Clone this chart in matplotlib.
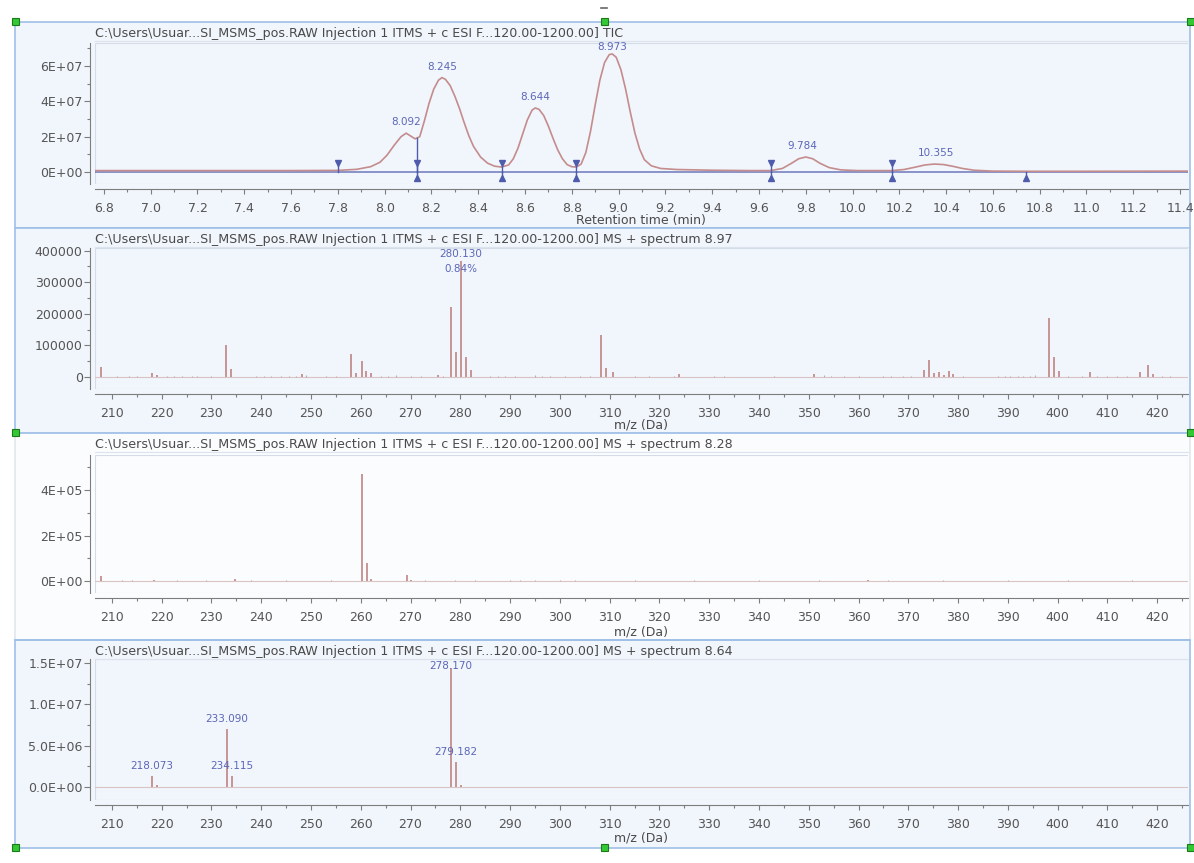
import matplotlib.pyplot as plt
from matplotlib.patches import Rectangle
from matplotlib.lines import Line2D
from matplotlib.ticker import MultipleLocator

plt.rcParams['font.family'] = ['DejaVu Sans']

# ---- TIC trace (retention time in min, intensity in counts) ----
tic_time = [6.76, 7.0, 7.3, 7.6, 7.8, 7.88, 7.94, 7.98, 8.01, 8.04, 8.07, 8.092,
            8.11, 8.13, 8.15, 8.17, 8.19, 8.21, 8.23, 8.245, 8.26, 8.28, 8.30,
            8.32, 8.34, 8.36, 8.38, 8.41, 8.44, 8.47, 8.50, 8.53, 8.55, 8.57,
            8.59, 8.61, 8.63, 8.644, 8.66, 8.68, 8.70, 8.72, 8.74, 8.76, 8.78,
            8.80, 8.82, 8.84, 8.86, 8.88, 8.90, 8.92, 8.94, 8.96, 8.973, 8.99,
            9.01, 9.03, 9.05, 9.07, 9.09, 9.11, 9.14, 9.18, 9.25, 9.4, 9.55,
            9.65, 9.70, 9.74, 9.77, 9.80, 9.83, 9.86, 9.90, 9.95, 10.02, 10.17,
            10.22, 10.27, 10.31, 10.35, 10.39, 10.43, 10.47, 10.52, 10.6, 10.75,
            11.0, 11.44]
tic_signal_e7 = [0.08, 0.08, 0.08, 0.08, 0.09, 0.15, 0.3, 0.55, 0.95, 1.5, 2.0, 2.2,
                 2.05, 1.88, 2.0, 2.9, 3.9, 4.7, 5.2, 5.35, 5.25, 4.9, 4.3,
                 3.6, 2.8, 2.05, 1.45, 0.85, 0.5, 0.33, 0.28, 0.4, 0.75, 1.35,
                 2.15, 2.95, 3.5, 3.63, 3.55, 3.2, 2.6, 1.9, 1.25, 0.75, 0.42,
                 0.3, 0.28, 0.45, 1.1, 2.3, 3.8, 5.2, 6.2, 6.65, 6.69, 6.5,
                 5.8, 4.7, 3.4, 2.2, 1.3, 0.7, 0.35, 0.2, 0.14, 0.1, 0.08,
                 0.08, 0.2, 0.5, 0.75, 0.85, 0.75, 0.5, 0.25, 0.12, 0.08, 0.08,
                 0.14, 0.28, 0.4, 0.45, 0.42, 0.32, 0.2, 0.1, 0.05, 0.04,
                 0.04, 0.05]
tic_signal = [v * 1e7 for v in tic_signal_e7]

peak_rt = [8.092, 8.245, 8.644, 8.973, 9.784, 10.355]
peak_height = [2.2e7, 5.35e7, 3.63e7, 6.69e7, 0.85e7, 0.45e7]
peak_text = ["8.092", "8.245", "8.644", "8.973", "9.784", "10.355"]
bound_start = [7.8, 8.14, 8.5, 8.82, 9.65, 10.17]
bound_end = [8.14, 8.5, 8.82, 9.65, 10.17, 10.74]
drop_rt = 8.14
drop_height = 1.9e7

# ---- MS spectrum 8.97 ----
ms897_mz = [207.8, 218.0, 219.0, 233.0, 234.0, 248.2, 258.1, 259.1, 260.2, 261.1,
            262.0, 275.5, 278.2, 279.2, 280.13, 281.1, 282.2, 308.2, 309.2, 310.6,
            324.0, 351.0, 373.2, 374.2, 375.2, 376.2, 377.2, 378.2, 379.0, 398.2,
            399.2, 400.2, 406.5, 416.6, 418.2, 419.1]
ms897_int = [32000, 14000, 7000, 101000, 26000, 11000, 74000, 13000, 52000, 20000,
             14000, 7000, 220000, 80000, 368000, 64000, 22000, 132000, 27000, 17000,
             11000, 8000, 23000, 54000, 12000, 16000, 7000, 19000, 8000, 185000,
             64000, 19000, 16000, 16000, 38000, 9000]
ms897_noise_mz = [211, 213.5, 215, 221, 222.5, 224, 226, 227, 230, 239, 240.5, 242,
                  244, 245.5, 247, 249, 253, 255, 264, 265.5, 267, 270, 272, 276.5,
                  286, 287.5, 289, 291, 295, 296.5, 298, 301, 304, 306, 315, 318,
                  323, 331, 333, 343, 353, 354.5, 357, 360, 365, 366.5, 369, 370.5,
                  381, 388, 389.5, 390.5, 392, 393, 394.5, 395.5, 402, 405, 408,
                  410, 412, 414, 421, 422.5]
ms897_noise_int = [3000, 2500, 4000, 3000, 2500, 3500, 4000, 3000, 2500, 4500, 3000, 3500,
                   3000, 4000, 3000, 5000, 2500, 3000, 3500, 4000, 5000, 3000, 2500, 4000,
                   3500, 3000, 4000, 3000, 6000, 3500, 3000, 2500, 3000, 3500, 3000, 2500,
                   4000, 3000, 4500, 4000, 5000, 3500, 3000, 3000, 3500, 3000, 4000, 3000,
                   3500, 3000, 3500, 4000, 3500, 4000, 4500, 5000, 3000, 3500, 3000,
                   3000, 3500, 3000, 3500, 3000]
ms897_label = ["280.130", "0.84%"]

# ---- MS spectrum 8.28 ----
ms828_mz = [207.8, 218.5, 234.7, 260.2, 261.2, 262.1, 269.2, 270.1, 362.0]
ms828_int = [20000, 5000, 8000, 472000, 80000, 7000, 27000, 5000, 6000]
ms828_noise_mz = [212, 214, 221, 223, 226, 229, 238, 241, 245, 250, 254, 258, 273,
                  276, 279, 283, 287, 290, 292, 295, 297, 300, 303, 310, 315, 320,
                  327, 333, 340, 346, 352, 358, 366, 371, 377, 383, 390, 396, 402,
                  409, 415, 421]
ms828_noise_int = [2500, 3000, 2000, 2500, 2000, 2500, 3000, 2000, 2500, 2000, 2500, 2000, 2500,
                   2000, 2500, 3000, 2000, 2500, 3000, 2500, 2000, 3000, 2500, 2000, 2500, 2000,
                   2500, 2000, 2500, 2000, 2500, 2000, 2500, 2000, 2500, 2000, 2500, 2000, 2500,
                   2000, 2500, 2000]

# ---- MS spectrum 8.64 ----
ms864_mz = [218.073, 219.1, 233.09, 234.115, 278.17, 279.182, 280.2]
ms864_int = [1.3e6, 0.2e6, 7.0e6, 1.3e6, 1.44e7, 3.0e6, 0.25e6]
ms864_label_mz = [218.073, 233.09, 234.115, 278.17, 279.182]
ms864_label_int = [1.3e6, 7.0e6, 1.3e6, 1.44e7, 3.0e6]
ms864_label_text = ["218.073", "233.090", "234.115", "278.170", "279.182"]

# ---- axis ticks / titles ----
tic_yticks = [0, 2e7, 4e7, 6e7]
tic_ylabels = ["0E+00", "2E+07", "4E+07", "6E+07"]
ms897_yticks = [0, 100000, 200000, 300000, 400000]
ms897_ylabels = ["0", "100000", "200000", "300000", "400000"]
ms828_yticks = [0, 2e5, 4e5]
ms828_ylabels = ["0E+00", "2E+05", "4E+05"]
ms864_yticks = [0, 5e6, 1e7, 1.5e7]
ms864_ylabels = ["0.0E+00", "5.0E+06", "1.0E+07", "1.5E+07"]

path = "C:\\Users\\Usuar...SI_MSMS_pos.RAW Injection 1 ITMS + c ESI F...120.00-1200.00]"
titles = [path + " TIC", path + " MS + spectrum 8.97",
          path + " MS + spectrum 8.28", path + " MS + spectrum 8.64"]

# ---- styling ----
W, H = 1194, 863
BG = "#f1f5fc"
FRAME = "#9fbfe8"
TRACE = "#c48c8c"
STEM = "#bf8585"
BLUE = "#4f5cab"
LBLUE = "#5b67b8"
TXT = "#4a4a4a"
TICK = "#7d7d7d"
MZ_LIM = (206.6, 426.2)

fig = plt.figure(figsize=(W / 100, H / 100), dpi=100)
fig.patch.set_facecolor("white")


def fbox(x0, y0, x1, y1):
    return [x0 / W, 1 - y1 / H, (x1 - x0) / W, (y1 - y0) / H]


def panel(y0, y1, face, edge, title):
    b = fbox(15, y0, 1190, y1)
    fig.add_artist(Rectangle((b[0], b[1]), b[2], b[3], transform=fig.transFigure,
                             facecolor=face, edgecolor=edge, lw=1.2, zorder=0))
    fig.add_artist(Line2D([95 / W, 1188 / W], [1 - (y0 + 19) / H] * 2,
                          transform=fig.transFigure, color="#dde3ec", lw=0.8))
    fig.text(95 / W, 1 - (y0 + 11) / H, title, fontsize=9.1, color=TXT,
             va="center", ha="left")


def make_axes(y0, y1, face):
    ax = fig.add_axes(fbox(95, y0, 1188, y1))
    ax.set_facecolor(face)
    for s in ["top", "right"]:
        ax.spines[s].set_visible(False)
    for s in ["left", "bottom"]:
        ax.spines[s].set_position(("outward", 3.6))
        ax.spines[s].set_color(TICK)
        ax.spines[s].set_linewidth(0.8)
    ax.add_patch(Rectangle((0, 0), 1, 1, transform=ax.transAxes, fill=False,
                           edgecolor="#d4dce8", lw=0.8, zorder=0.5))
    ax.tick_params(which="both", color=TICK, width=0.8, labelcolor="#555555",
                   labelsize=9)
    ax.tick_params(axis="y", which="major", length=4.3, pad=1)
    ax.tick_params(axis="y", which="minor", length=2.5)
    ax.tick_params(axis="x", which="major", length=3.5, pad=6)
    ax.tick_params(axis="x", which="minor", length=2)
    return ax


def xlabel(text, y):
    fig.text(641 / W, 1 - y / H, text, fontsize=9, color=TXT, ha="center", va="center")


# ---- panel 1: TIC ----
panel(22, 228, BG, FRAME, titles[0])
ax1 = make_axes(43, 184, BG)
ax1.plot(tic_time, tic_signal, color=TRACE, lw=1.2, zorder=3)
ax1.axhline(0, color=BLUE, lw=1.2, alpha=0.75, zorder=2)
ax1.plot([drop_rt, drop_rt], [0, drop_height], color=BLUE, lw=1.0, zorder=4)
for s in bound_start:
    ax1.plot([s, s], [0, 0.42e7], color=BLUE, lw=1.0, zorder=4)
    ax1.plot(s, 0.5e7, marker="v", ms=5, color=BLUE, zorder=5)
for e in bound_end:
    ax1.plot([e, e], [-0.3e7, 0], color=BLUE, lw=1.0, zorder=4)
    ax1.plot(e, -0.35e7, marker="^", ms=5, color=BLUE, zorder=5)
for rt, h, t in zip(peak_rt, peak_height, peak_text):
    ax1.text(rt, min(h + 0.62e7, 7.08e7), t, fontsize=7.5, color=LBLUE,
             ha="center", va="center", zorder=6)
ax1.set_xlim(6.762, 11.434)
ax1.set_ylim(-0.68e7, 7.31e7)
ax1.xaxis.set_major_locator(MultipleLocator(0.2))
ax1.xaxis.set_minor_locator(MultipleLocator(0.1))
ax1.set_yticks(tic_yticks, tic_ylabels)
ax1.yaxis.set_minor_locator(MultipleLocator(1e7))
xlabel("Retention time (min)", 220)


# ---- spectrum panels ----
def spectrum(ax, mz, inten, nmz, nint, ylim, yticks, ylabels, yminor):
    ax.axhline(0, color="#d9c4c4", lw=0.8, zorder=2)
    ax.vlines(nmz, 0, nint, color="#c9a8a8", lw=0.8, zorder=3)
    ax.vlines(mz, 0, inten, color=STEM, lw=1.2, zorder=4)
    ax.set_xlim(*MZ_LIM)
    ax.set_ylim(*ylim)
    ax.xaxis.set_major_locator(MultipleLocator(10))
    ax.xaxis.set_minor_locator(MultipleLocator(5))
    ax.set_yticks(yticks, ylabels)
    ax.yaxis.set_minor_locator(MultipleLocator(yminor))


panel(228, 433, BG, FRAME, titles[1])
ax2 = make_axes(248, 389, BG)
spectrum(ax2, ms897_mz, ms897_int, ms897_noise_mz, ms897_noise_int,
         (-38000, 408000), ms897_yticks, ms897_ylabels, 50000)
ax2.text(280.13, 390000, ms897_label[0], fontsize=7.5, color=LBLUE, ha="center", va="center", zorder=6)
ax2.text(280.13, 343000, ms897_label[1], fontsize=7.5, color=LBLUE, ha="center", va="center", zorder=6)
xlabel("m/z (Da)", 425)

panel(433, 640, "#fbfcfe", "#e1e7ef", titles[2])
ax3 = make_axes(455, 593, "#fbfcfe")
spectrum(ax3, ms828_mz, ms828_int, ms828_noise_mz, ms828_noise_int,
         (-52700, 553800), ms828_yticks, ms828_ylabels, 1e5)
xlabel("m/z (Da)", 632)

panel(640, 848, BG, FRAME, titles[3])
ax4 = make_axes(659, 800, BG)
spectrum(ax4, ms864_mz, ms864_int, [], [], (-1.57e6, 1.55e7),
         ms864_yticks, ms864_ylabels, 2.5e6)
for m, h, t in zip(ms864_label_mz, ms864_label_int, ms864_label_text):
    ax4.text(m, min(h + 1.21e6, 1.465e7), t, fontsize=7.5, color=LBLUE,
             ha="center", va="center", zorder=6)
xlabel("m/z (Da)", 838)

# panel borders redrawn on top
for yy in [433, 640]:
    fig.add_artist(Line2D([15 / W, 1190 / W], [1 - yy / H] * 2, transform=fig.transFigure,
                          color=FRAME, lw=1.2))

# selection handles
handles = [(15, 22), (604, 22), (1190, 22), (15, 433), (1190, 433),
           (15, 847), (604, 847), (1190, 847)]
for hx, hy in handles:
    fig.add_artist(Rectangle(((hx - 3.5) / W, 1 - (hy + 3.5) / H), 7 / W, 7 / H,
                             transform=fig.transFigure, facecolor="#35c835",
                             edgecolor="#1a7a1a", lw=0.8, zorder=10))
fig.add_artist(Line2D([601 / W, 607 / W], [1 - 8 / H] * 2, transform=fig.transFigure,
                      color="#666666", lw=1.2))

fig.savefig("out.png", dpi=100)
